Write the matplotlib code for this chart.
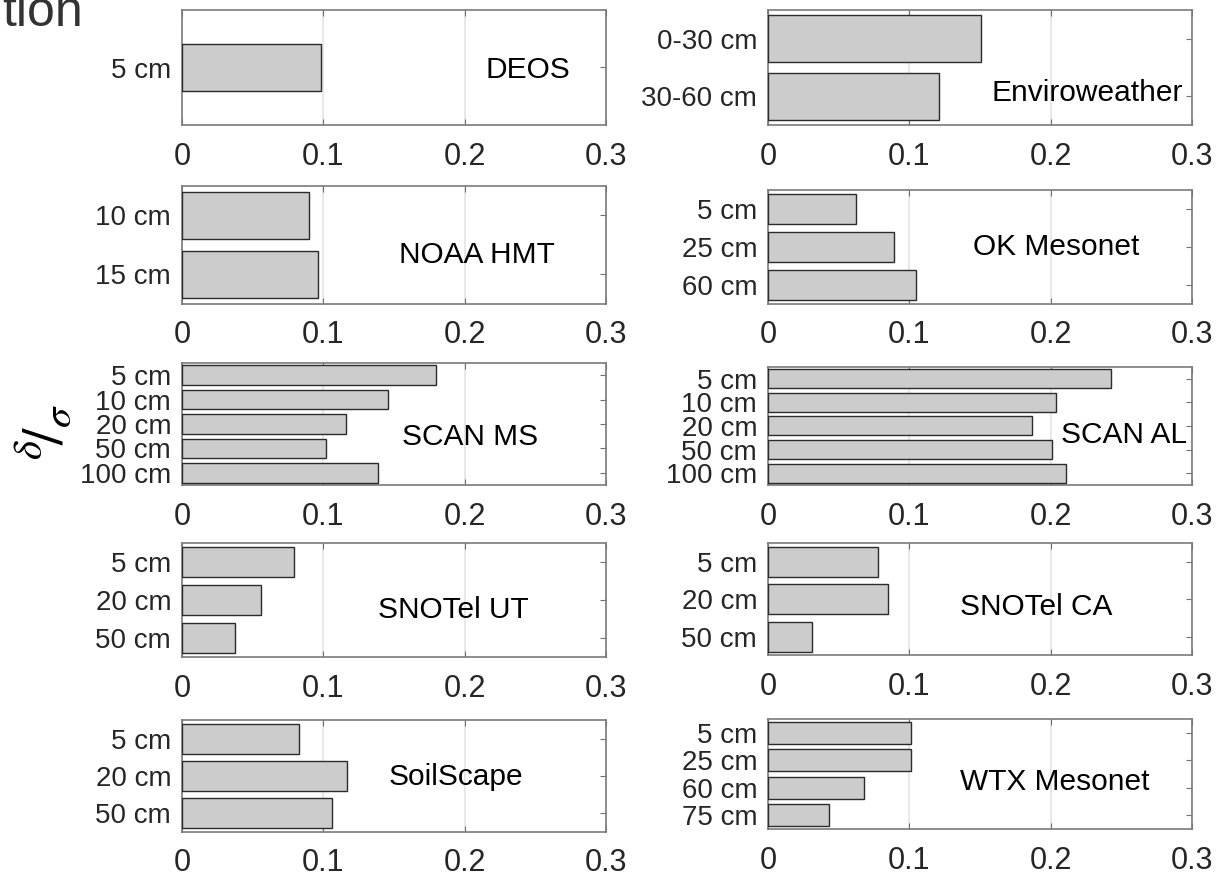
import matplotlib
matplotlib.use("Agg")
import matplotlib.pyplot as plt

W, H = 1224, 877

# station names and depth labels
stations = ["DEOS", "Enviroweather", "NOAA HMT", "OK Mesonet", "SCAN MS",
            "SCAN AL", "SNOTel UT", "SNOTel CA", "SoilScape", "WTX Mesonet"]

deos_depths = ["5 cm"]
deos_vals = [0.098]
envi_depths = ["0-30 cm", "30-60 cm"]
envi_vals = [0.151, 0.121]
noaa_depths = ["10 cm", "15 cm"]
noaa_vals = [0.090, 0.096]
ok_depths = ["5 cm", "25 cm", "60 cm"]
ok_vals = [0.062, 0.089, 0.105]
scanms_depths = ["5 cm", "10 cm", "20 cm", "50 cm", "100 cm"]
scanms_vals = [0.180, 0.146, 0.116, 0.102, 0.139]
scanal_depths = ["5 cm", "10 cm", "20 cm", "50 cm", "100 cm"]
scanal_vals = [0.243, 0.204, 0.187, 0.201, 0.211]
snout_depths = ["5 cm", "20 cm", "50 cm"]
snout_vals = [0.079, 0.056, 0.037]
snoca_depths = ["5 cm", "20 cm", "50 cm"]
snoca_vals = [0.078, 0.085, 0.031]
soil_depths = ["5 cm", "20 cm", "50 cm"]
soil_vals = [0.083, 0.117, 0.106]
wtx_depths = ["5 cm", "25 cm", "60 cm", "75 cm"]
wtx_vals = [0.101, 0.101, 0.068, 0.043]

xticks = [0, 0.1, 0.2, 0.3]
xticklabels = ["0", "0.1", "0.2", "0.3"]

panels = [
    (deos_depths, deos_vals), (envi_depths, envi_vals),
    (noaa_depths, noaa_vals), (ok_depths, ok_vals),
    (scanms_depths, scanms_vals), (scanal_depths, scanal_vals),
    (snout_depths, snout_vals), (snoca_depths, snoca_vals),
    (soil_depths, soil_vals), (wtx_depths, wtx_vals),
]

# layout in pixels: (left, right) and (top, bottom) per panel
LEFT_X = (182.3, 605.7)
RIGHT_X = (768.3, 1191.7)
row_y = [
    ((9.7, 125.3), (9.7, 125.3)),
    ((186, 303.7), (190, 303.7)),
    ((363, 485), (366.7, 485)),
    ((543.3, 657), (543.3, 655.3)),
    ((720, 831.7), (719.3, 829)),
]
# station label position in data coords
label_pos = [(0.245, 1.04), (0.226, 1.94), (0.209, 1.68), (0.204, 2.0),
             (0.204, 3.52), (0.252, 3.4), (0.192, 2.26), (0.190, 2.2),
             (0.194, 2.04), (0.203, 2.78)]

plt.rcParams["font.family"] = ["Liberation Sans", "DejaVu Sans"]

fig = plt.figure(figsize=(W / 100, H / 100), dpi=100)

for i, (depths, vals) in enumerate(panels):
    r, c = divmod(i, 2)
    x0, x1 = LEFT_X if c == 0 else RIGHT_X
    y0, y1 = row_y[r][c]
    ax = fig.add_axes([x0 / W, 1 - y1 / H, (x1 - x0) / W, (y1 - y0) / H])
    n = len(depths)
    pos = list(range(1, n + 1))
    ax.barh(pos, vals, height=0.8, color="#cccccc", edgecolor="#2b2b2b",
            linewidth=1.0, zorder=3)
    ax.set_xlim(0, 0.3)
    if n == 1:
        ax.set_ylim(2, 0)
    else:
        ax.set_ylim(n + 0.5, 0.5)
    ax.set_xticks(xticks)
    ax.set_xticklabels(xticklabels)
    ax.set_yticks(pos)
    ax.set_yticklabels(depths)
    ax.grid(axis="x", color="#e4e4e4", linewidth=1.2, zorder=0)
    ax.tick_params(axis="both", direction="in", length=4, width=0.8,
                   color="#6f6f6f", top=True, right=True, labelcolor="#262626")
    ax.tick_params(axis="x", labelsize=22, pad=12)
    ax.tick_params(axis="y", labelsize=20, pad=8)
    for s in ax.spines.values():
        s.set_color("#7a7a7a")
        s.set_linewidth(1.2)
    tx, ty = label_pos[i]
    ax.text(tx, ty, stations[i], fontsize=21.5, ha="center", va="center",
            color="black", zorder=4)

fig.text(83 / W, 1 - 26 / H, "tion", fontsize=36, ha="right",
         va="baseline", color="#333333")
fig.text(45 / W, 1 - 432 / H, r"${}^{\delta}\!/{}_{\sigma}$", fontsize=42,
         rotation=90, ha="center", va="center", color="black",
         math_fontfamily="stix")

fig.savefig("out.png", dpi=100)
